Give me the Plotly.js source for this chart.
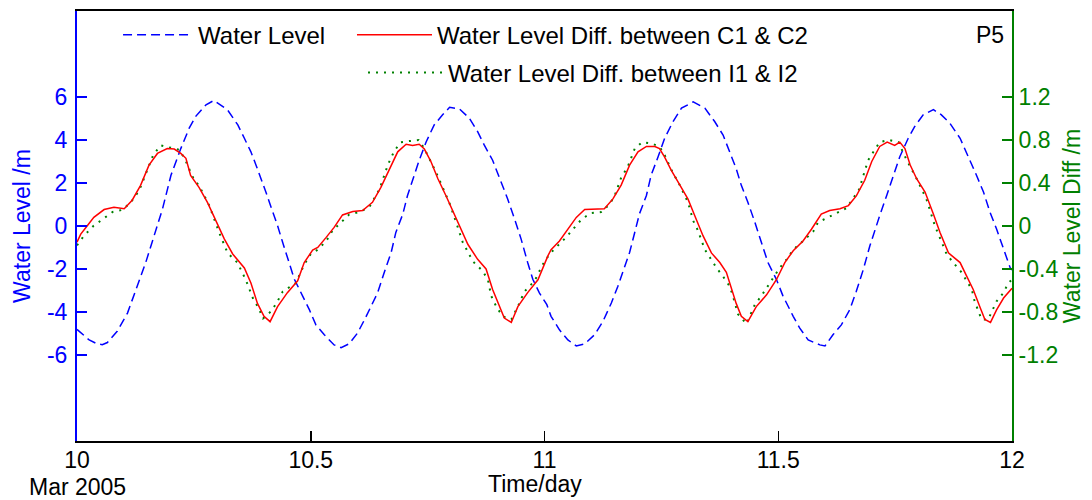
<!DOCTYPE html>
<html><head><meta charset="utf-8">
<script src="https://cdn.plot.ly/plotly-3.0.1.min.js"></script>
<style>html,body{margin:0;padding:0;background:#fff}#chart{width:1092px;height:500px}</style>
</head><body><div id="chart"></div><script>
// Water level (left axis, m) vs time in days
var wlDay = [10.000,10.026,10.043,10.054,10.065,10.086,10.108,10.129,10.147,10.165,
10.183,10.201,10.222,10.240,10.254,10.276,10.293,10.322,10.344,10.358,
10.372,10.383,10.394,10.404,10.415,10.429,10.440,10.454,10.465,10.483,
10.497,10.511,10.529,10.550,10.565,10.582,10.600,10.615,10.629,10.643,
10.657,10.672,10.682,10.697,10.707,10.722,10.732,10.747,10.764,10.782,
10.797,10.818,10.839,10.857,10.871,10.889,10.907,10.921,10.936,10.950,
10.964,10.975,10.989,11.005,11.014,11.032,11.050,11.068,11.086,11.107,
11.125,11.143,11.157,11.171,11.182,11.193,11.203,11.218,11.228,11.243,
11.257,11.275,11.293,11.318,11.343,11.364,11.382,11.396,11.410,11.421,
11.435,11.450,11.464,11.478,11.496,11.510,11.532,11.546,11.564,11.589,
11.600,11.617,11.635,11.653,11.667,11.682,11.696,11.707,11.717,11.732,
11.746,11.760,11.778,11.792,11.810,11.832,11.849,11.867,11.889,11.907,
11.924,11.939,11.953,11.967,11.982,11.996,12.000];
var wlValue = [-4.81,-5.30,-5.48,-5.52,-5.42,-4.90,-4.05,-2.80,-1.70,-0.45,
0.80,2.36,3.60,4.55,5.10,5.64,5.84,5.40,4.70,4.08,
3.45,2.83,2.20,1.58,0.88,0.02,-0.77,-1.70,-2.48,-3.27,
-3.89,-4.60,-5.06,-5.53,-5.66,-5.48,-4.98,-4.36,-3.73,-3.11,
-2.17,-1.23,-0.30,0.56,1.42,2.44,3.06,3.92,4.70,5.17,
5.52,5.45,5.02,4.39,3.77,3.06,2.05,1.27,0.33,-0.61,
-1.70,-2.48,-3.11,-3.66,-4.20,-4.83,-5.30,-5.58,-5.48,-5.06,
-4.44,-3.58,-2.80,-1.94,-1.23,-0.30,0.56,1.42,2.36,3.22,
4.08,4.86,5.48,5.77,5.48,4.86,4.23,3.45,2.67,1.89,
1.11,0.17,-0.77,-1.70,-2.48,-3.25,-4.20,-4.75,-5.30,-5.53,
-5.58,-5.06,-4.60,-3.89,-3.03,-2.02,-0.92,-0.14,0.48,1.42,
2.36,3.22,4.08,4.63,5.17,5.41,5.17,4.78,4.08,3.22,
2.36,1.58,0.64,-0.14,-1.08,-1.94,-2.05];

// Water level difference between C1 & C2 (right axis, m)
var c12Day = [10.000,10.008,10.022,10.036,10.058,10.079,10.101,10.118,10.136,10.154,
10.172,10.193,10.208,10.222,10.233,10.243,10.261,10.279,10.297,10.315,
10.333,10.358,10.372,10.386,10.400,10.413,10.429,10.450,10.472,10.486,
10.504,10.515,10.533,10.550,10.568,10.590,10.611,10.632,10.650,10.668,
10.686,10.704,10.718,10.732,10.743,10.757,10.772,10.789,10.804,10.822,
10.836,10.857,10.875,10.889,10.904,10.914,10.929,10.943,10.964,10.986,
11.007,11.014,11.032,11.050,11.068,11.086,11.107,11.128,11.146,11.164,
11.182,11.200,11.218,11.236,11.246,11.257,11.271,11.289,11.307,11.321,
11.339,11.357,11.375,11.389,11.400,11.410,11.421,11.435,11.453,11.475,
11.496,11.514,11.532,11.553,11.571,11.592,11.610,11.632,11.650,11.667,
11.685,11.700,11.717,11.733,11.749,11.760,11.771,11.782,11.796,11.814,
11.832,11.846,11.864,11.889,11.903,11.917,11.932,11.942,11.954,11.967,
11.982,11.996,12.000];
var c12Diff = [-0.150,-0.075,0.003,0.080,0.153,0.175,0.160,0.240,0.378,0.566,
0.675,0.720,0.716,0.675,0.630,0.470,0.360,0.220,0.050,-0.120,
-0.260,-0.390,-0.530,-0.720,-0.840,-0.890,-0.750,-0.620,-0.510,-0.340,
-0.225,-0.200,-0.106,-0.013,0.103,0.134,0.144,0.220,0.360,0.530,
0.690,0.760,0.750,0.760,0.716,0.600,0.440,0.284,0.144,-0.030,
-0.170,-0.310,-0.400,-0.590,-0.760,-0.856,-0.897,-0.750,-0.620,-0.500,
-0.280,-0.220,-0.140,-0.030,0.080,0.153,0.153,0.160,0.250,0.380,
0.566,0.690,0.740,0.740,0.720,0.640,0.520,0.380,0.250,0.100,
-0.090,-0.250,-0.340,-0.430,-0.590,-0.720,-0.840,-0.890,-0.750,-0.640,
-0.500,-0.340,-0.230,-0.140,-0.030,0.110,0.144,0.160,0.190,0.280,
0.425,0.600,0.740,0.780,0.750,0.780,0.720,0.570,0.440,0.316,
0.110,-0.060,-0.250,-0.340,-0.466,-0.590,-0.760,-0.870,-0.897,-0.780,
-0.670,-0.600,-0.580];

// Water level difference between I1 & I2 (right axis, m)
var i12Day = [10.000,10.015,10.035,10.056,10.076,10.097,10.115,10.133,10.147,10.163,
10.179,10.198,10.218,10.230,10.247,10.263,10.283,10.304,10.322,10.343,
10.361,10.377,10.388,10.398,10.416,10.429,10.440,10.468,10.486,10.500,
10.515,10.533,10.547,10.565,10.582,10.604,10.625,10.647,10.665,10.679,
10.693,10.711,10.731,10.743,10.755,10.768,10.782,10.797,10.811,10.825,
10.847,10.868,10.879,10.886,10.898,10.911,10.929,10.943,10.957,10.979,
10.996,11.011,11.029,11.046,11.063,11.080,11.100,11.121,11.139,11.150,
11.164,11.178,11.193,11.209,11.227,11.246,11.257,11.275,11.286,11.307,
11.318,11.328,11.343,11.368,11.382,11.396,11.403,11.414,11.432,11.450,
11.464,11.478,11.503,11.518,11.532,11.553,11.575,11.585,11.607,11.626,
11.646,11.673,11.685,11.692,11.705,11.717,11.737,11.757,11.774,11.796,
11.817,11.835,11.860,11.874,11.892,11.914,11.920,11.935,11.949,11.967,
11.982,11.992,12.000];
var i12Diff = [-0.18,-0.09,0.00,0.065,0.13,0.15,0.22,0.33,0.49,0.66,
0.75,0.73,0.71,0.63,0.46,0.36,0.19,-0.06,-0.25,-0.34,
-0.50,-0.68,-0.76,-0.86,-0.79,-0.70,-0.61,-0.53,-0.36,-0.26,
-0.22,-0.14,-0.04,0.034,0.106,0.13,0.175,0.34,0.57,0.70,
0.78,0.79,0.80,0.72,0.62,0.50,0.36,0.21,0.034,-0.15,
-0.33,-0.42,-0.50,-0.65,-0.76,-0.84,-0.87,-0.75,-0.61,-0.51,
-0.36,-0.26,-0.18,-0.106,-0.02,0.066,0.12,0.13,0.20,0.28,
0.45,0.55,0.72,0.78,0.77,0.74,0.66,0.49,0.41,0.22,
0.05,-0.04,-0.22,-0.39,-0.47,-0.56,-0.65,-0.82,-0.91,-0.73,
-0.65,-0.56,-0.39,-0.31,-0.22,-0.14,-0.05,0.034,0.08,0.12,
0.166,0.34,0.52,0.61,0.70,0.78,0.80,0.78,0.62,0.44,
0.25,0.003,-0.26,-0.34,-0.43,-0.59,-0.70,-0.87,-0.87,-0.70,
-0.62,-0.53,-0.50];

// Tick labels
var xTickVals = [10, 10.5, 11, 11.5, 12];
var xTickText = ['10', '10.5', '11', '11.5', '12'];
var yLeftTickVals = [-6, -4, -2, 0, 2, 4, 6];
var yLeftTickText = ['-6', '-4', '-2', '0', '2', '4', '6'];
var yRightTickVals = [-1.2, -0.8, -0.4, 0, 0.4, 0.8, 1.2];
var yRightTickText = ['-1.2', '-0.8', '-0.4', '0', '0.4', '0.8', '1.2'];

var FONT = '"Liberation Sans", Arial, sans-serif';
var BLUE = '#0000ff', RED = '#ff0000', GREEN = '#008000';
var AX = 23, LG = 24;

var traces = [
  {x: wlDay, y: wlValue, name: 'Water Level', type: 'scatter', mode: 'lines',
   line: {color: BLUE, width: 1.5, dash: '9px,5px'}, yaxis: 'y', legend: 'legend'},
  {x: i12Day, y: i12Diff, name: 'Water Level Diff. between I1 & I2', type: 'scatter', mode: 'lines',
   line: {color: GREEN, width: 2, dash: '2px,6px'}, yaxis: 'y2', legend: 'legend3'},
  {x: c12Day, y: c12Diff, name: 'Water Level Diff. between C1 & C2', type: 'scatter', mode: 'lines',
   line: {color: RED, width: 1.5}, yaxis: 'y2', legend: 'legend2'}
];

function legendBox(x, y, w) {
  return {
    orientation: 'h', x: x, y: y, xanchor: 'left', yanchor: 'middle',
    bgcolor: 'rgba(0,0,0,0)', borderwidth: 0, itemwidth: w,
    font: {family: FONT, size: LG, color: '#000000'}
  };
}

var layout = {
  width: 1092, height: 500,
  margin: {l: 77, r: 80, t: 11, b: 59},
  paper_bgcolor: '#ffffff', plot_bgcolor: '#ffffff',
  font: {family: FONT, size: AX, color: '#000000'},
  showlegend: true,
  xaxis: {
    range: [10, 12], tickmode: 'array', tickvals: xTickVals, ticktext: xTickText,
    ticks: 'inside', ticklen: 10, tickwidth: 1.5, tickcolor: '#000000',
    showline: true, linecolor: '#000000', linewidth: 2, mirror: true,
    showgrid: false, zeroline: false, automargin: false, ticklabelstandoff: -3,
    tickfont: {family: FONT, size: AX, color: '#000000'}
  },
  yaxis: {
    range: [-10, 10], tickmode: 'array', tickvals: yLeftTickVals, ticktext: yLeftTickText,
    ticks: 'inside', ticklen: 10, tickwidth: 1.5, tickcolor: BLUE,
    showline: true, linecolor: BLUE, linewidth: 2,
    showgrid: false, zeroline: false, automargin: false, ticklabelstandoff: 3,
    tickfont: {family: FONT, size: AX, color: BLUE},
    title: {text: 'Water Level /m', font: {family: FONT, size: AX, color: BLUE}, standoff: 10}
  },
  yaxis2: {
    overlaying: 'y', side: 'right', anchor: 'x',
    range: [-2, 2], tickmode: 'array', tickvals: yRightTickVals, ticktext: yRightTickText,
    ticks: 'inside', ticklen: 10, tickwidth: 1.5, tickcolor: GREEN,
    showline: true, linecolor: GREEN, linewidth: 2,
    showgrid: false, zeroline: false, automargin: false, ticklabelstandoff: 0,
    tickfont: {family: FONT, size: AX, color: GREEN},
    title: {text: 'Water Level Diff /m', font: {family: FONT, size: AX, color: GREEN}, standoff: 6}
  },
  legend: legendBox(0.0439, 0.944, 70),
  legend2: legendBox(0.2941, 0.944, 75),
  legend3: legendBox(0.3059, 0.856, 75),
  annotations: [
    {text: 'P5', xref: 'paper', yref: 'paper', x: 0.9765, y: 0.944, xanchor: 'center', yanchor: 'middle',
     showarrow: false, font: {family: FONT, size: AX, color: '#000000'}},
    {text: 'Mar 2005', xref: 'x', yref: 'paper', x: 10, y: -0.106, xanchor: 'center', yanchor: 'middle',
     showarrow: false, borderpad: 0, font: {family: FONT, size: AX, color: '#000000'}},
    {text: 'Time/day', xref: 'paper', yref: 'paper', x: 0.4898, y: -0.1325, xanchor: 'center', yanchor: 'bottom',
     showarrow: false, borderpad: 0, font: {family: FONT, size: AX, color: '#000000'}}
  ]
};

Plotly.newPlot('chart', traces, layout, {displayModeBar: false, staticPlot: true});
</script></body></html>
